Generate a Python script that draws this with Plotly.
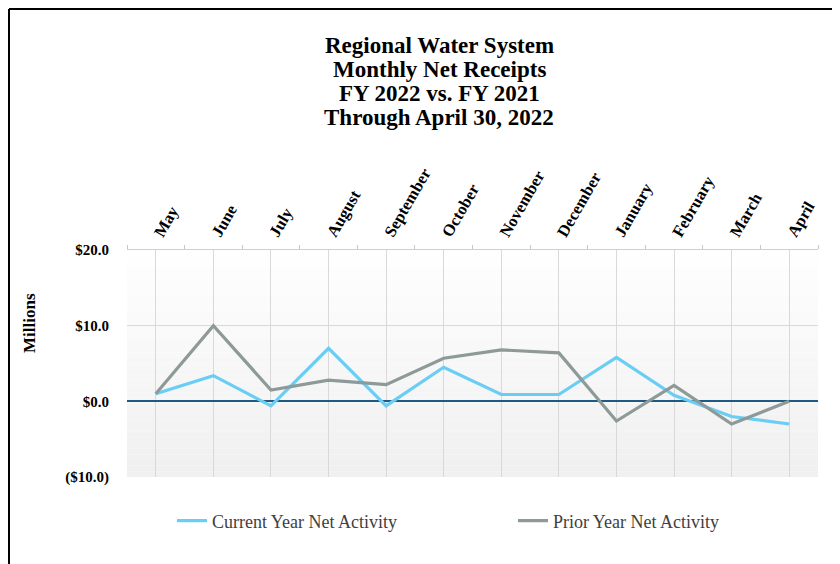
import plotly.graph_objects as go

# ---------------------------------------------------------------------------
# Données (millions $)
# ---------------------------------------------------------------------------
mois = ["May", "June", "July", "August", "September", "October",
        "November", "December", "January", "February", "March", "April"]
courant = [1.0, 3.4, -0.6, 7.0, -0.6, 4.5, 0.9, 0.9, 5.8, 0.8, -2.0, -3.0]
precedent = [1.0, 10.0, 1.5, 2.8, 2.2, 5.7, 6.8, 6.4, -2.6, 2.1, -3.0, 0.0]

y_ticks = [-10, 0, 10, 20]
y_labels = ["($10.0)", "$0.0", "$10.0", "$20.0"]

titre = ["Regional Water System", "Monthly Net Receipts",
         "FY 2022 vs. FY 2021", "Through April 30, 2022"]

# géométrie : la page ajoute 8 px de marge autour de la figure
W, H = 840, 564
L, R, T, B = 119, 30, 242, 95
PW, PH = W - L - R, H - T - B


def px_x(x):
    # x en pixels de page -> coordonnée paper
    return (x - 8 - L) / PW


def px_y(y):
    return (H - B - (y - 8)) / PH


SERIF = "Liberation Serif"
BLEU = "#6acdf4"
GRIS = "#8d9a98"

fig = go.Figure()

fig.add_trace(go.Scatter(x=mois, y=courant, mode="lines", name="Current Year Net Activity",
                         line=dict(color=BLEU, width=3.2), legend="legend"))
fig.add_trace(go.Scatter(x=mois, y=precedent, mode="lines", name="Prior Year Net Activity",
                         line=dict(color=GRIS, width=3.2), legend="legend2"))

# fond dégradé (blanc -> gris clair)
shapes = []
n = 40
for i in range(n):
    c = int(255 - 15 * (i + 0.5) / n)
    shapes.append(dict(type="rect", xref="x domain", yref="y domain",
                       x0=0, x1=1, y0=1 - (i + 1) / n, y1=1 - i / n,
                       fillcolor=f"rgb({c},{c},{c})", line=dict(width=0), layer="below"))

# cadre extérieur
shapes.append(dict(type="line", xref="paper", yref="paper",
                   x0=px_x(9), x1=px_x(9), y0=px_y(9), y1=px_y(600),
                   line=dict(color="black", width=2)))
shapes.append(dict(type="line", xref="paper", yref="paper",
                   x0=px_x(9), x1=px_x(900), y0=px_y(9), y1=px_y(9),
                   line=dict(color="black", width=2)))

annotations = []
for i, ligne in enumerate(titre):
    annotations.append(dict(text=f"<b>{ligne}</b>", xref="paper", yref="paper",
                            x=px_x(439), y=px_y(45 + 24.3 * i), xanchor="center", yanchor="middle",
                            showarrow=False, font=dict(family=SERIF, size=23, color="black")))
annotations.append(dict(text="<b>Millions</b>", xref="paper", yref="paper",
                        x=px_x(29), y=px_y(323), xanchor="center", yanchor="middle",
                        textangle=-90, showarrow=False,
                        font=dict(family=SERIF, size=17, color="black")))

leg = dict(orientation="h", xanchor="left", yanchor="middle",
           font=dict(family=SERIF, size=18, color="#404040"), bgcolor="rgba(0,0,0,0)")

fig.update_layout(
    width=W, height=H,
    margin=dict(l=L, r=R, t=T, b=B),
    paper_bgcolor="white",
    plot_bgcolor="rgba(0,0,0,0)",
    shapes=shapes,
    annotations=annotations,
    showlegend=True,
    legend=dict(leg, x=px_x(172), y=px_y(521)),
    legend2=dict(leg, x=px_x(513), y=px_y(521)),
    xaxis=dict(type="category", side="top", range=[-0.5, 11.5],
               tickangle=-60, showgrid=True, gridcolor="#d9d9d9", gridwidth=1,
               showline=True, linecolor="#d0d0d0", linewidth=1, ticks="",
               tickfont=dict(family=SERIF, size=16.5, color="black", weight="bold"),
               zeroline=False),
    xaxis2=dict(overlaying="x", side="top", range=[-0.5, 11.5], tick0=-0.5, dtick=1,
                ticks="outside", ticklen=4, tickcolor="#c8c8c8", showticklabels=False,
                showgrid=False, zeroline=False, showline=False, anchor="y"),
    yaxis=dict(range=[-10, 20], tickvals=y_ticks, ticktext=y_labels,
               showgrid=True, gridcolor="#d9d9d9", gridwidth=1,
               zeroline=True, zerolinecolor="#1f5a85", zerolinewidth=1.5,
               showline=False, ticks="", ticklabelstandoff=17,
               tickfont=dict(family=SERIF, size=15, color="black", weight="bold")),
)

# trace invisible pour afficher l'axe des graduations aux limites
fig.add_trace(go.Scatter(x=[-0.5, 11.5], y=[None, None], xaxis="x2", yaxis="y",
                         mode="lines", showlegend=False, hoverinfo="skip"))

fig.write_html("out.html")
